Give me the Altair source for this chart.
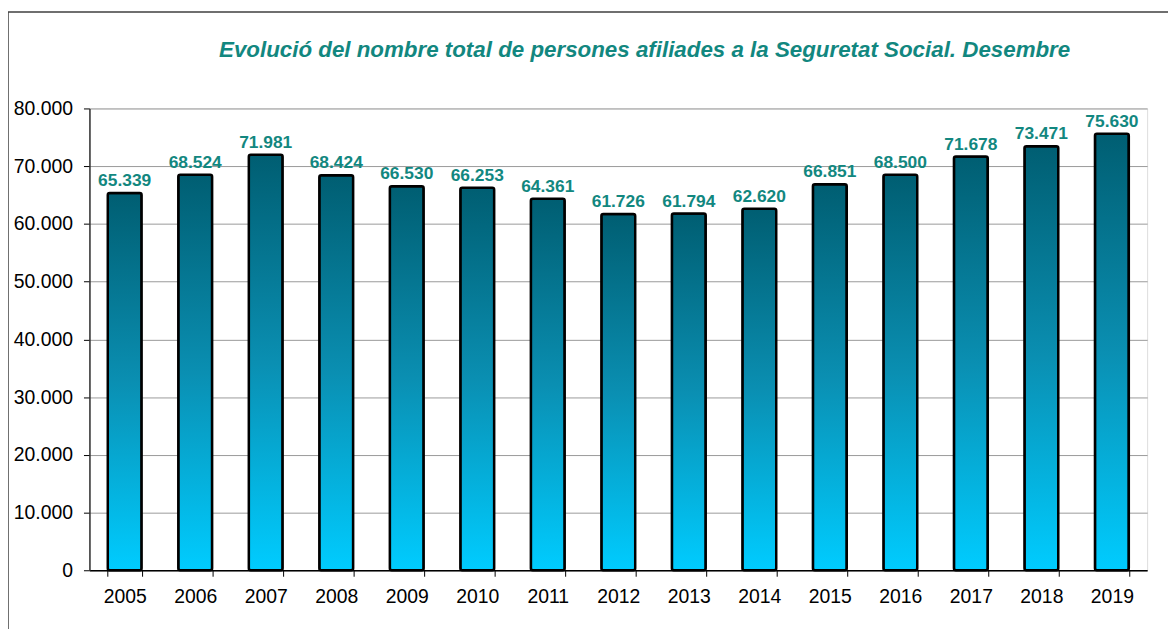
import altair as alt
import pandas as pd

years = ["2005", "2006", "2007", "2008", "2009", "2010", "2011", "2012",
         "2013", "2014", "2015", "2016", "2017", "2018", "2019"]
values = [65339, 68524, 71981, 68424, 66530, 66253, 64361, 61726,
          61794, 62620, 66851, 68500, 71678, 73471, 75630]
title_text = "Evolució del nombre total de persones afiliades  a la Seguretat Social. Desembre"

df = pd.DataFrame({"year": years, "value": values})

FONT = "Liberation Sans"
TEAL = "#12877F"
W, H = 1065, 465

base = alt.Chart(df).transform_calculate(
    label="replace(format(datum.value, ','), ',', '.')"
)

x_enc = alt.X("year:N", sort=years, title=None,
              scale=alt.Scale(paddingInner=0.52, paddingOuter=0.26),
              axis=alt.Axis(labelAngle=0, labelFontSize=19.5, labelFont=FONT,
                            labelColor="#000000", tickBand="extent", tickSize=6,
                            tickColor="#000000", domainColor="#000000",
                            domainWidth=1.5, labelPadding=11, grid=False))
y_enc = alt.Y("value:Q", title=None,
              scale=alt.Scale(domain=[0, 80000], nice=False),
              axis=alt.Axis(values=list(range(0, 80001, 10000)),
                            labelExpr="replace(format(datum.value, ','), ',', '.')",
                            labelFontSize=19.5, labelFont=FONT, labelColor="#000000",
                            tickSize=6, tickColor="#000000", domainColor="#303030",
                            domainWidth=1.5, gridColor="#9a9a9a", gridWidth=1,
                            labelPadding=11))

bars = base.mark_bar(
    stroke="#000000", strokeWidth=2.5, cornerRadius=2,
    fill=alt.Gradient(gradient="linear",
                      stops=[alt.GradientStop(color="#005E72", offset=0),
                             alt.GradientStop(color="#0A8FB2", offset=0.5),
                             alt.GradientStop(color="#00CCFF", offset=1)],
                      x1=0, x2=0, y1=0, y2=1)
).encode(x=x_enc, y=y_enc)

labels = base.mark_text(
    baseline="bottom", dy=-3, fontSize=17.5, fontWeight="bold", font=FONT, color=TEAL
).encode(x=alt.X("year:N", sort=years), y="value:Q", text="label:N")

title = alt.Chart(pd.DataFrame({"t": [title_text]})).mark_text(
    fontSize=22.5, fontWeight="bold", fontStyle="italic", font=FONT, color=TEAL,
    align="center", baseline="middle"
).encode(x=alt.value(559), y=alt.value(-59), text="t:N")

border = alt.Chart(pd.DataFrame({"a": [0]})).mark_rect(
    fill="transparent", stroke="#404040", strokeWidth=1.5
).encode(x=alt.value(-82), x2=alt.value(1200), y=alt.value(-97), y2=alt.value(700))

chart = alt.layer(border, bars, labels, title).properties(
    width=W, height=H,
    autosize=alt.AutoSizeParams(type="none"),
    padding={"left": 82, "top": 99, "right": 21, "bottom": 57},
).configure_view(stroke="#9a9a9a", strokeWidth=1.5).configure(background="white")

chart.save("out.html", embed_options={"renderer": "svg", "actions": False})
